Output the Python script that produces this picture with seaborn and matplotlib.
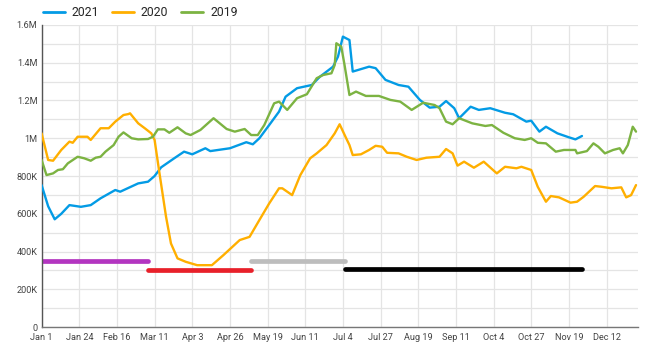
import pandas as pd
import seaborn as sns
import matplotlib.pyplot as plt

# --- data (day of year offset from Jan 1, value) ---
days_2021 = [0, 4, 8, 12, 17, 24, 30, 36, 45, 48, 59, 65, 69, 73, 81, 87, 92, 100, 103,
             115, 125, 129, 133, 139, 145, 149, 156, 165, 170, 178, 181, 184, 188, 190,
             200, 204, 210, 218, 224, 231, 237, 243, 247, 252, 255, 262, 267, 274, 283,
             288, 296, 299, 304, 308, 315, 322, 326, 330]
vals_2021 = [752, 640, 571, 600, 646, 637, 646, 682, 726, 717, 761, 770, 800, 846, 894, 929, 915, 947, 932,
             947, 979, 968, 1000, 1070, 1141, 1220, 1265, 1282, 1326, 1379, 1432, 1538, 1520, 1353,
             1379, 1371, 1309, 1282, 1273, 1203, 1162, 1167, 1197, 1159, 1106, 1167, 1150, 1159, 1135,
             1127, 1088, 1093, 1035, 1061, 1026, 1005, 994, 1012]

days_2020 = [0, 4, 7, 12, 17, 19, 22, 28, 30, 36, 41, 45, 50, 53, 54, 59, 63, 67, 69, 72, 76, 79,
             83, 88, 95, 104, 111, 121, 127, 133, 139, 145, 147, 153, 158, 164, 168, 174, 179,
             182, 186, 188, 190, 195, 200, 204, 208, 211, 218, 223, 229, 235, 243, 247, 251,
             254, 258, 264, 270, 278, 283, 290, 293, 299, 303, 308, 311, 316, 323, 327, 331,
             338, 342, 348, 354, 357, 360, 363]
vals_2020 = [1026, 885, 881, 938, 982, 976, 1008, 1008, 991, 1053, 1053, 1088, 1123, 1128, 1132, 1079, 1053, 1026, 991, 814, 584, 443,
             364, 346, 328, 328, 381, 461, 478, 567, 655, 735, 735, 699, 805, 894, 920, 964, 1026,
             1074, 1000, 964, 911, 915, 938, 960, 955, 923, 920, 902, 885, 897, 902, 943, 920,
             855, 876, 844, 876, 814, 849, 841, 849, 832, 743, 664, 694, 687, 659, 664, 690,
             747, 743, 735, 740, 687, 699, 752]

days_2019 = [0, 3, 7, 10, 13, 16, 22, 26, 30, 33, 36, 39, 44, 47, 50, 55, 59, 65, 68, 71, 75, 78,
             83, 88, 91, 97, 105, 113, 118, 124, 128, 132, 136, 142, 145, 150, 156, 162, 168,
             172, 177, 179, 180, 183, 185, 188, 192, 198, 206, 213, 219, 226, 233, 240, 243,
             247, 251, 255, 263, 271, 275, 282, 289, 295, 299, 303, 308, 314, 319, 326, 327,
             333, 337, 340, 344, 349, 353, 355, 358, 361, 363]
vals_2019 = [885, 805, 814, 832, 836, 867, 902, 894, 881, 897, 902, 929, 964, 1008, 1031, 1000, 994, 996, 1008, 1047, 1047, 1029,
             1058, 1026, 1017, 1044, 1106, 1049, 1035, 1049, 1017, 1017, 1070, 1185, 1194, 1150, 1212, 1233, 1318,
             1335, 1344, 1388, 1503, 1485, 1388, 1229, 1247, 1224, 1224, 1203, 1194, 1150, 1188, 1176, 1159,
             1088, 1074, 1106, 1079, 1065, 1070, 1029, 1000, 991, 1000, 976, 973, 929, 938, 938, 920,
             932, 973, 955, 920, 938, 947, 920, 964, 1061, 1035]

# horizontal period bars
seg_start = [0, 65, 128, 185]
seg_end = [65, 128, 185, 330]
seg_level = [350, 300, 350, 310]
seg_colors = ['#B335C0', '#E8202A', '#BDBDBD', '#000000']

x_tick_days = [0, 23, 46, 69, 92, 115, 138, 161, 184, 207, 230, 253, 276, 299, 322, 345]
x_tick_labels = ['Jan 1', 'Jan 24', 'Feb 16', 'Mar 11', 'Apr 3', 'Apr 26', 'May 19', 'Jun 11',
                 'Jul 4', 'Jul 27', 'Aug 19', 'Sep 11', 'Oct 4', 'Oct 27', 'Nov 19', 'Dec 12']
y_tick_vals = [0, 200, 400, 600, 800, 1000, 1200, 1400, 1600]
y_tick_labels = ['0', '200K', '400K', '600K', '800K', '1M', '1.2M', '1.4M', '1.6M']

anni = ['2021', '2020', '2019']
colori = {'2021': '#039BE5', '2020': '#FFAF00', '2019': '#7CB342'}

df = pd.concat([
    pd.DataFrame({'giorno': days_2021, 'valore': vals_2021, 'anno': '2021'}),
    pd.DataFrame({'giorno': days_2020, 'valore': vals_2020, 'anno': '2020'}),
    pd.DataFrame({'giorno': days_2019, 'valore': vals_2019, 'anno': '2019'}),
])

# --- grafico ---
sns.set_style('white')
plt.rcParams['font.family'] = ['Roboto', 'DejaVu Sans']

fig, ax = plt.subplots(figsize=(6.5, 3.51), dpi=100)
fig.subplots_adjust(left=0.064, right=0.981, top=0.929, bottom=0.068)

# griglia
ax.set_yticks(y_tick_vals, labels=y_tick_labels)
ax.set_yticks([v + 100 for v in y_tick_vals[:-1]], minor=True)
ax.set_xticks(x_tick_days, labels=x_tick_labels)
ax.grid(True, which='major', color='#E4E4E4', linewidth=0.9)
ax.grid(True, which='minor', axis='y', color='#E4E4E4', linewidth=0.9)
ax.set_axisbelow(True)

for s, e, lv, c in zip(seg_start, seg_end, seg_level, seg_colors):
    ax.plot([s, e], [lv, lv], color=c, linewidth=3.4, solid_capstyle='round', zorder=2)

sns.lineplot(data=df, x='giorno', y='valore', hue='anno', hue_order=anni,
             palette=colori, linewidth=1.7, ax=ax, zorder=3)

ax.set_xlim(0, 364)
ax.set_ylim(0, 1600)
ax.set_xlabel('')
ax.set_ylabel('')
ax.tick_params(axis='both', which='both', length=0, labelsize=6.6, colors='#444444', pad=4)
ax.tick_params(axis='y', pad=3)

for lato in ['top', 'right']:
    ax.spines[lato].set_visible(False)
ax.spines['left'].set_color('#555555')
ax.spines['bottom'].set_color('#777777')
ax.spines['left'].set_linewidth(1.0)
ax.spines['bottom'].set_linewidth(1.0)

handles, labels = ax.get_legend_handles_labels()
for h in handles:
    h.set_linewidth(2.0)
ax.legend(handles, labels, loc='center left', bbox_to_anchor=(0.058, 0.964),
          bbox_transform=fig.transFigure, ncol=3, frameon=False, fontsize=8.8,
          handlelength=1.8, columnspacing=1.0, handletextpad=0.6, borderaxespad=0)

plt.savefig('out.png', dpi=100)
